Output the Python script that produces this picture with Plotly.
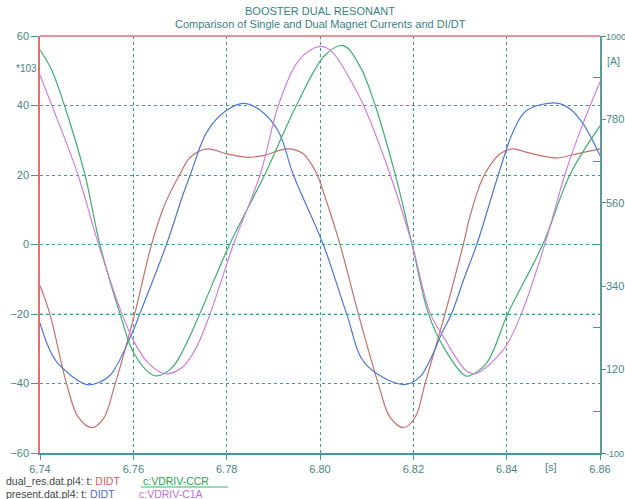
import plotly.graph_objects as go

# ---- data ----
t_red = [6.7400, 6.7421, 6.7457, 6.7482, 6.7511, 6.7536, 6.7561, 6.7603, 6.7639, 6.7668, 6.7700,
         6.7722, 6.7758, 6.7800, 6.7843, 6.7879, 6.7929, 6.7964, 6.7993, 6.8011, 6.8043, 6.8082,
         6.8125, 6.8150, 6.8179, 6.8204, 6.8225, 6.8268, 6.8307, 6.8321, 6.8350, 6.8386, 6.8414,
         6.8443, 6.8507, 6.8550, 6.8600]
v_red = [-11.8, -19.9, -40.1, -49.7, -52.7, -50.1, -40.1, -19.9, 0.0, 11.7, 20.3,
         25.1, 27.5, 26.1, 25.1, 25.6, 27.5, 26.1, 20.3, 13.6, 0.0, -19.9,
         -40.1, -49.7, -52.7, -49.7, -40.1, -19.9, 0.0, 7.9, 19.4, 26.1, 27.5,
         26.5, 24.9, 26.1, 27.5]

t_blue = [6.7400, 6.7418, 6.7439, 6.7500, 6.7528, 6.7553, 6.7600, 6.7614, 6.7671, 6.7707, 6.7722,
          6.7758, 6.7800, 6.7836, 6.7872, 6.7911, 6.7943, 6.8007, 6.8057, 6.8097, 6.8179, 6.8214,
          6.8264, 6.8282, 6.8311, 6.8336, 6.8382, 6.8414, 6.8443, 6.8507, 6.8536, 6.8564, 6.8600]
v_blue = [-22.6, -29.5, -34.3, -40.3, -39.6, -37.2, -24.7, -19.9, 0.0, 14.6, 20.0,
          32.5, 38.6, 40.6, 38.6, 32.5, 20.0, 0.0, -19.9, -34.3, -40.3, -38.1,
          -24.7, -19.9, -8.9, 0.0, 20.0, 32.5, 38.6, 40.7, 39.0, 34.7, 25.6]

t_green = [6.7400, 6.7425, 6.7452, 6.7496, 6.7528, 6.7571, 6.7603, 6.7646, 6.7682, 6.7707, 6.7743,
           6.7807, 6.7882, 6.7950, 6.8011, 6.8050, 6.8086, 6.8118, 6.8161, 6.8197, 6.8232, 6.8264,
           6.8311, 6.8321, 6.8357, 6.8403, 6.8478, 6.8536, 6.8600]
v_green = [963.1, 910.4, 818.1, 635.4, 451.8, 269.0, 159.2, 103.8, 124.0, 172.4, 269.0,
           451.8, 635.4, 818.1, 949.9, 974.5, 919.2, 818.1, 635.4, 451.8, 269.0, 181.2,
           103.8, 103.8, 137.2, 269.0, 451.8, 635.4, 762.8]

t_mag = [6.7400, 6.7425, 6.7481, 6.7525, 6.7575, 6.7603, 6.7632, 6.7668, 6.7707, 6.7736, 6.7765,
         6.7815, 6.7872, 6.7911, 6.7950, 6.7986, 6.8007, 6.8029, 6.8057, 6.8093, 6.8150, 6.8197,
         6.8236, 6.8264, 6.8311, 6.8332, 6.8393, 6.8432, 6.8482, 6.8525, 6.8561, 6.8600]
v_mag = [897.2, 818.1, 635.4, 451.8, 269.0, 189.9, 137.2, 109.1, 128.4, 181.2, 269.0,
         451.8, 635.4, 818.1, 928.0, 967.5, 971.9, 954.3, 901.6, 818.1, 635.4, 451.8,
         269.0, 207.5, 119.7, 109.1, 172.4, 269.0, 451.8, 635.4, 761.0, 879.6]

x_ticks = [6.74, 6.76, 6.78, 6.80, 6.82, 6.84, 6.86]
x_ticktext = ["6.74", "6.76", "6.78", "6.80", "6.82", "6.84", "6.86"]
y_ticks = [-60, -40, -20, 0, 20, 40, 60]
y2_ticks = [-100, 120, 340, 560, 780, 1000]
y2_ticktext = ["<span style='font-size:9px'>-100</span>", "120", "340", "560", "780",
               "<span style='font-size:9px'>1000</span>"]
y2_minor = [10, 230, 450, 670, 890]
red_hgrid = [40, -20, -40]
red_vgrid = [6.76, 6.82]

TEAL = "#3f9a9a"
TXT = "#4a8585"
REDC = "#c8706a"
BLUEC = "#4a78d8"
GREENC = "#3cb06a"
MAGC = "#d07ee0"
FONT = "Liberation Sans, Arial, sans-serif"

fig = go.Figure()
line_kw = dict(width=1.2, shape="spline", smoothing=1.0)
fig.add_trace(go.Scatter(x=t_red, y=v_red, mode="lines", line=dict(color=REDC, **line_kw), yaxis="y"))
fig.add_trace(go.Scatter(x=t_blue, y=v_blue, mode="lines", line=dict(color=BLUEC, **line_kw), yaxis="y"))
fig.add_trace(go.Scatter(x=t_green, y=v_green, mode="lines", line=dict(color=GREENC, **line_kw), yaxis="y2"))
fig.add_trace(go.Scatter(x=t_mag, y=v_mag, mode="lines", line=dict(color=MAGC, **line_kw), yaxis="y2"))

shapes = []
for yv in red_hgrid:
    shapes.append(dict(type="line", xref="paper", yref="y", x0=0, x1=1, y0=yv, y1=yv,
                       line=dict(color="#e88888", width=1, dash="dot"), layer="below"))
for xv in red_vgrid:
    shapes.append(dict(type="line", xref="x", yref="paper", x0=xv, x1=xv, y0=0, y1=1,
                       line=dict(color="#e88888", width=1, dash="dot"), layer="below"))
# top frame line
shapes.append(dict(type="line", xref="paper", yref="paper", x0=0, x1=1, y0=1, y1=1,
                   line=dict(color="#e07070", width=1.5)))
# legend underline
shapes.append(dict(type="line", xref="paper", yref="paper", xsizemode="pixel", ysizemode="pixel",
                   xanchor=0, yanchor=0, x0=101, x1=188, y0=-34, y1=-34,
                   line=dict(color=GREENC, width=1)))

annotations = [
    dict(text="BOOSTER DUAL RESONANT", xref="paper", yref="paper", x=0.5, y=1, yanchor="bottom",
         yshift=17, showarrow=False, font=dict(size=11, color="#3a7f85", family=FONT)),
    dict(text="Comparison of Single and Dual Magnet Currents and DI/DT", xref="paper", yref="paper",
         x=0.5, y=1, yanchor="bottom", yshift=4, showarrow=False,
         font=dict(size=11, color="#3a7f85", family=FONT)),
    dict(text="*103", xref="paper", yref="paper", x=0, y=1, xanchor="right", yanchor="middle",
         xshift=-1, yshift=-32, showarrow=False, font=dict(size=10, color=TXT, family=FONT)),
    dict(text="[A]", xref="paper", yref="paper", x=1, y=1, xanchor="left", yanchor="middle",
         xshift=5, yshift=-25, showarrow=False, font=dict(size=10.5, color=TXT, family=FONT)),
    dict(text="[s]", xref="x", yref="paper", x=6.8495, y=0, yanchor="top", yshift=-6,
         showarrow=False, font=dict(size=11, color=TXT, family=FONT)),
    dict(text="dual_res.dat.pl4: t: <span style='color:#e05a5a'>DIDT</span>",
         xref="paper", yref="paper", x=0, y=0, xanchor="left", yanchor="middle",
         xshift=-36, yshift=-28, showarrow=False, font=dict(size=10.5, color="#3e4a4a", family=FONT)),
    dict(text="c:VDRIV-CCR", xref="paper", yref="paper", x=0, y=0, xanchor="left", yanchor="middle",
         xshift=101, yshift=-28, showarrow=False, font=dict(size=10.5, color="#2e9e50", family=FONT)),
    dict(text="present.dat.pl4: t: <span style='color:#4a6ae0'>DIDT</span>",
         xref="paper", yref="paper", x=0, y=0, xanchor="left", yanchor="middle",
         xshift=-36, yshift=-41, showarrow=False, font=dict(size=10.5, color="#3e4a4a", family=FONT)),
    dict(text="c:VDRIV-C1A", xref="paper", yref="paper", x=0, y=0, xanchor="left", yanchor="middle",
         xshift=97, yshift=-41, showarrow=False, font=dict(size=10.5, color="#c070e0", family=FONT)),
]

fig.update_layout(
    width=625, height=499,
    margin=dict(l=40, r=25, t=36, b=46, autoexpand=False),
    paper_bgcolor="white", plot_bgcolor="white",
    showlegend=False,
    font=dict(family=FONT, size=11, color=TXT),
    xaxis=dict(range=[6.74, 6.86], tickvals=x_ticks, ticktext=x_ticktext, ticks="outside",
               ticklen=5, tickcolor=TEAL, showline=True, linecolor=TEAL, linewidth=1.5,
               showgrid=True, gridcolor=TEAL, griddash="dot", gridwidth=1, zeroline=False,
               automargin=False, tickfont=dict(size=11, color=TXT)),
    yaxis=dict(range=[-60, 60], tickvals=y_ticks, ticks="outside", ticklen=7, tickcolor=TEAL,
               showline=True, linecolor="#e07070", linewidth=1.5, showgrid=True, gridcolor=TEAL,
               griddash="dot", gridwidth=1, zeroline=False, automargin=False,
               tickfont=dict(size=11, color=TXT)),
    yaxis2=dict(range=[-100, 1000], overlaying="y", side="right", tickvals=y2_ticks,
                ticktext=y2_ticktext, ticklabelstandoff=-2,
                ticks="outside", ticklen=4, tickcolor=TEAL, showline=True, linecolor="#5a9a9a",
                linewidth=1.5, showgrid=False, zeroline=False, automargin=False,
                tickfont=dict(size=11, color=TXT),
                minor=dict(tickvals=y2_minor, ticks="inside", ticklen=7, tickcolor=TEAL)),
    shapes=shapes,
    annotations=annotations,
)

fig.write_html("out.html")
